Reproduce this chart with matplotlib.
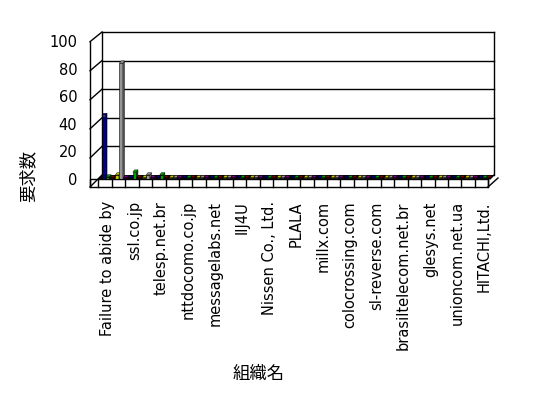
import matplotlib
matplotlib.use("Agg")
import matplotlib.pyplot as plt
import matplotlib.colors as mcolors
import numpy as np

# organisations (only every other name is printed on the original chart)
categories = ["Failure to abide by", "", "ssl.co.jp", "", "telesp.net.br", "",
              "nttdocomo.co.jp", "", "messagelabs.net", "", "IIJ4U", "",
              "Nissen Co., Ltd.", "", "PLALA", "", "millx.com", "",
              "colocrossing.com", "", "sl-reverse.com", "", "brasiltelecom.net.br", "",
              "glesys.net", "", "unioncom.net.ua", "", "HITACHI,Ltd."]
s1 = [46, 3, 1, 1, 1, 1, 1, 1, 1, 1, 1, 1, 1, 1, 1, 1, 1, 1, 1, 1, 1, 1, 1, 1, 1, 1, 1, 1, 1]
s2 = [1.5, 84, 5, 3, 3, 1, 1, 1, 1, 1, 1, 1, 1, 1, 1, 1, 1, 1, 1, 1, 1, 1, 1, 1, 1, 1, 1, 1, 1]
s3 = [1, 1, 1, 1, 1, 1, 1, 1, 1, 1, 1, 1, 1, 1, 1, 1, 1, 1, 1, 1, 1, 1, 1, 1, 1, 1, 1, 1, 1]
yticks = [0, 20, 40, 60, 80, 100]
palette = ["#000080", "#00a000", "#800000", "#c8c800", "#969696", "#800080"]

W, H = 548, 398
fig = plt.figure(figsize=(W / 100, H / 100), dpi=100)

# background layer in pixel coords for the 3D walls / floor
bg = fig.add_axes([0, 0, 1, 1])
bg.set_xlim(0, W)
bg.set_ylim(H, 0)
bg.axis("off")
lk = dict(color="k", lw=1)
bg.plot([90, 90], [41.7, 187], **lk)
bg.plot([90, 102], [41.7, 32], **lk)
bg.plot([102, 494], [32, 32], **lk)
bg.plot([102, 102], [32, 175], **lk)
bg.plot([494, 494], [32, 175], **lk)
for v in yticks[1:-1]:
    bg.plot([102, 494], [175 - v * 1.43, 175 - v * 1.43], **lk)
    bg.plot([90, 102], [187 - v * 1.453, 175 - v * 1.43], **lk)
# floor
bg.fill([98, 102, 494, 490], [179, 175, 175, 179], color="k", lw=0)
bg.fill([90, 488, 488, 90], [179, 179, 187, 187], facecolor="white", edgecolor="k", lw=1)
for k in range(len(categories) + 1):
    xx = 98.3 + k * 13.45
    bg.plot([xx, xx], [179, 187], **lk)
bg.plot([90, 102], [187, 175], **lk)
bg.plot([488, 498], [187, 178], **lk)
bg.plot([490, 494], [179, 175], **lk)

# bar plane
ax = fig.add_axes([101 / W, (H - 179) / H, 390 / W, 138 / H])
ax.patch.set_alpha(0)
for sp in ax.spines.values():
    sp.set_visible(False)
n = len(categories)
x = np.arange(n) + 0.5
bw = 0.26
dx, dy = 0.12, 1.6  # fake depth of each column
for j, s in enumerate([s1, s2, s3]):
    cols = [palette[(i * 3 + j) % len(palette)] for i in range(n)]
    xs = x + (j - 1) * 0.3
    ax.bar(xs, s, width=bw, color=cols, edgecolor="k", lw=0.4, zorder=3)
    for xi, v, c in zip(xs, s, cols):
        dark = tuple(0.6 * np.array(mcolors.to_rgb(c)))
        r = xi + bw / 2
        ax.fill([r, r + dx, r + dx, r], [0, dy, v + dy, v], color=dark, ec="k", lw=0.3, zorder=3)
        ax.fill([r - bw, r, r + dx, r - bw + dx], [v, v, v + dy, v + dy], color=c, ec="k", lw=0.3, zorder=3)
ax.set_xlim(0, n)
ax.set_ylim(0, 100)
ax.set_yticks(yticks)
ax.set_yticklabels([str(v) for v in yticks], fontsize=10.5)
ax.set_xticks(x)
ax.set_xticklabels(categories, rotation=90, fontsize=10.5)
ax.tick_params(axis="y", length=0, pad=17)
ax.tick_params(axis="x", length=0, pad=16)

fig.text(28 / W, 1 - 176 / H, "要求数", rotation=90, ha="center", va="center",
         fontsize=12.5, family=["Noto Sans CJK JP", "DejaVu Sans"])
fig.text(259 / W, 1 - 374 / H, "組織名", ha="center", va="center",
         fontsize=12.5, family=["Noto Sans CJK JP", "DejaVu Sans"])

fig.savefig("out.png", dpi=100)
